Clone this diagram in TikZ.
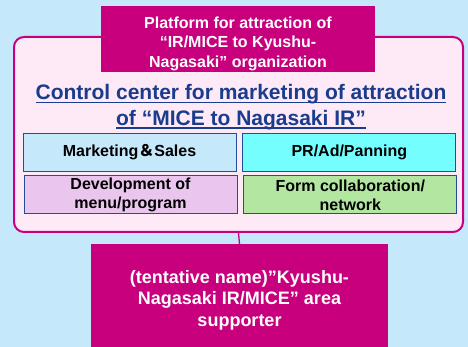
\documentclass[tikz,border=0pt]{standalone}
\usepackage{fontspec}
\setmainfont{Liberation Sans}
\newfontfamily\cjk{Noto Sans CJK JP}
\usetikzlibrary{positioning}
\definecolor{bgblue}{HTML}{C5E9FB}
\definecolor{mag}{HTML}{C8007D}
\definecolor{pinkfill}{HTML}{FDEAF6}
\definecolor{titleblue}{HTML}{1A3C8C}
\definecolor{boxblue}{HTML}{1F4E9A}
\definecolor{prcyan}{HTML}{74FEFE}
\definecolor{lavender}{HTML}{EAC6EF}
\definecolor{leafgreen}{HTML}{B2E6A1}
% underline at a fixed depth below the baseline
\newcommand\titleline[1]{\setbox0\hbox{#1}\rlap{\rule[-3.5pt]{\wd0}{1.4pt}}\box0}

\begin{document}
\begin{tikzpicture}[x=1pt, y=-1pt, inner sep=0pt,
    subbox/.style={draw=boxblue, line width=0.8pt, minimum width=213pt, minimum height=38pt,
        align=center, font=\fontsize{16}{19}\selectfont\bfseries},
    magbox/.style={fill=mag},
    whitetext/.style={text=white, align=center}]
    \fill[bgblue] (0,0) rectangle (468,347);
    \useasboundingbox (0,0) rectangle (468,347);

    % control center frame and its title
    \node[draw=mag, line width=2pt, fill=pinkfill, rounded corners=10pt,
        minimum width=449pt, minimum height=195pt] (ctrl) at (238.5,134.5) {};
    \node[magbox, minimum width=274pt, minimum height=66pt] (platform) at (238,39) {};
    \node[whitetext, font=\fontsize{16}{19.5}\selectfont\bfseries] (platformtext) at (238,43.5)
        {Platform for attraction of\\“IR/MICE to Kyushu-\\Nagasaki” organization};
    \node[text=titleblue, align=center, font=\fontsize{21}{25.5}\selectfont\bfseries] (title) at (241,107)
        {\titleline{Control center for marketing of attraction}\\\titleline{of “MICE to Nagasaki IR”}};

    % four working groups
    \node[subbox, fill=bgblue] (mktg) at (129.5,152) {Marketing{\cjk ＆}Sales};
    \node[subbox, fill=prcyan, right=6pt of mktg] (pr) {PR/Ad/Panning};
    \node[subbox, fill=lavender, below=4pt of mktg, xshift=1pt] (devel) {Development of\\menu/program};
    \node[subbox, fill=leafgreen, below=4pt of pr, xshift=1pt] (collab) {Form collaboration/\\network};

    % area supporter
    \node[magbox, minimum width=297pt, minimum height=108pt] (supporter) at (239.5,298) {};
    \node[whitetext, font=\fontsize{18}{21.5}\selectfont\bfseries] (supportertext) at (239.5,300)
        {(tentative name)”Kyushu-\\Nagasaki IR/MICE” area\\supporter};

    \draw[mag, line width=1.3pt] (ctrl.south) -- (supporter.north);
\end{tikzpicture}
\end{document}
